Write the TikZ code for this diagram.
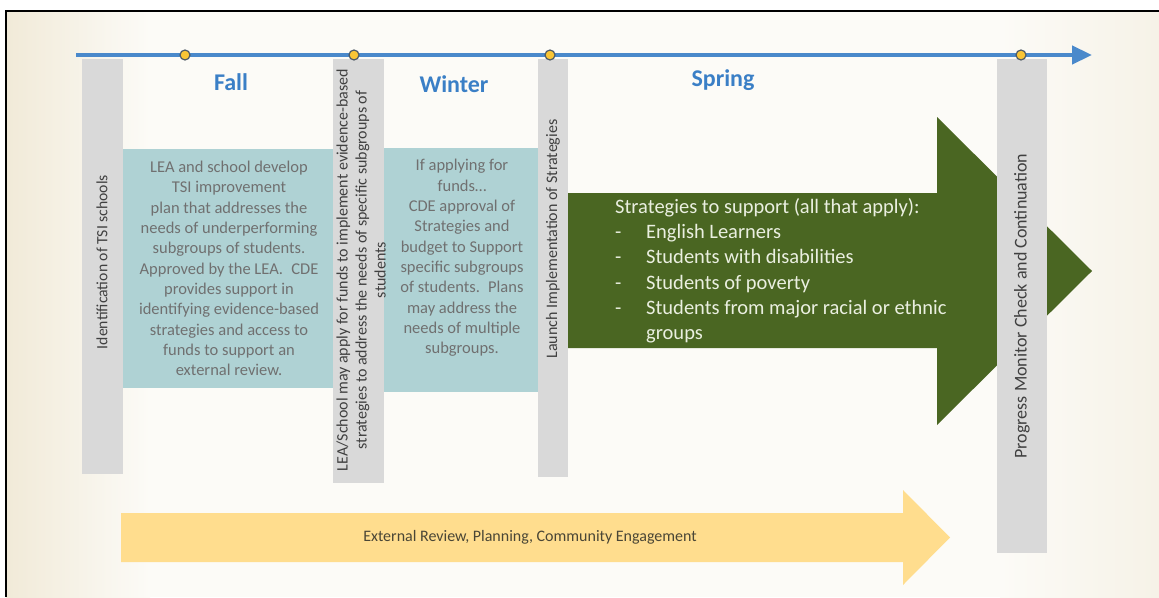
\documentclass[tikz,border=0pt]{standalone}
\usepackage{fontspec}
\setmainfont{Carlito}
\usetikzlibrary{arrows.meta}
\definecolor{bgc}{HTML}{FCFBF7}
\definecolor{beigeL}{HTML}{F1EAD8}
\definecolor{beigeR}{HTML}{F6F2E7}
\definecolor{tlblue}{HTML}{4A89CB}
\definecolor{lblblue}{HTML}{3A7FC6}
\definecolor{tealbox}{HTML}{AFD2D4}
\definecolor{barfill}{HTML}{D9D9D9}
\definecolor{tealtext}{HTML}{707070}
\definecolor{bartext}{HTML}{404040}
\definecolor{greenarrow}{HTML}{4A6622}
\definecolor{greentext}{HTML}{EAEFE0}
\definecolor{yellowarrow}{HTML}{FFDD8E}
\definecolor{yellowtext}{HTML}{4A4636}
\definecolor{dotfill}{HTML}{F9C535}
\definecolor{dotdraw}{HTML}{4F5B66}
\tikzset{
  barbox/.style={fill=barfill, draw=none, inner sep=0pt},
  tealpanel/.style={fill=tealbox, draw=none, inner sep=0pt},
  bartxt/.style={rotate=90, text=bartext, align=center, inner sep=0pt, font=\fontsize{16}{19}\selectfont},
  tealtxt/.style={text=tealtext, align=center, inner sep=0pt, font=\fontsize{16.5}{20.3}\selectfont},
  season/.style={text=lblblue, inner sep=0pt, font=\fontsize{24}{26}\selectfont\bfseries},
  tldot/.style={circle, fill=dotfill, draw=dotdraw, line width=1.2pt, minimum size=10pt, inner sep=0pt},
}
\begin{document}
\begin{tikzpicture}[x=1pt,y=-1pt]
\useasboundingbox (0,0) rectangle (1159,597);
% background
\fill[white] (0,0) rectangle (1159,597);
\fill[bgc] (6,11) rectangle (1159,597);
\shade[left color=beigeL, right color=bgc] (6,11) rectangle (150,597);
\shade[left color=bgc, right color=beigeR] (1000,11) rectangle (1159,597);
\draw[line width=2pt, black] (6,597) -- (6,11) -- (1159,11);

% yellow arrow
\fill[yellowarrow] (121,513) -- (903,513) -- (903,490) -- (950,537.5) -- (903,585) -- (903,562) -- (121,562) -- cycle;
\node[text=yellowtext, inner sep=0pt, font=\fontsize{16}{18}\selectfont] (ext) at (530,537) {External Review, Planning, Community Engagement};

% teal panels
\node[tealpanel, minimum width=212pt, minimum height=239pt] (p1) at (229,268.5) {};
\node[tealtxt] (p1t) at (229,268.5) {LEA and school develop\\TSI improvement\\plan that addresses the\\needs of underperforming\\subgroups of students.\\Approved by the LEA.\enspace CDE\\provides support in\\identifying evidence-based\\strategies and access to\\funds to support an\\external review.};
\node[tealpanel, minimum width=154pt, minimum height=244pt] (p2) at (461,270) {};
\node[tealtxt] (p2t) at (462,258) {If applying for\\funds…\\CDE approval of\\Strategies and\\budget to Support\\specific subgroups\\of students.\enspace Plans\\may address the\\needs of multiple\\subgroups.};

% green arrow
\fill[greenarrow] (567,193) -- (937,193) -- (937,117) -- (1092,271) -- (937,425) -- (937,348) -- (567,348) -- cycle;
\node[anchor=north west, text=greentext, align=left, inner sep=0pt, font=\fontsize{20.5}{25.3}\selectfont] (gt) at (615,198) {Strategies to support (all that apply):\\
\makebox[31pt][l]{-}English Learners\\
\makebox[31pt][l]{-}Students with disabilities\\
\makebox[31pt][l]{-}Students of poverty\\
\makebox[31pt][l]{-}Students from major racial or ethnic\\
\hspace*{31pt}groups};

% grey bars
\node[barbox, minimum width=41pt, minimum height=415pt] (b1) at (102.5,266.5) {};
\node[barbox, minimum width=51pt, minimum height=424pt] (b2) at (358.5,271) {};
\node[barbox, minimum width=30pt, minimum height=418pt] (b3) at (553,268) {};
\node[barbox, minimum width=50pt, minimum height=494pt] (b4) at (1022,306) {};
\node[bartxt, font=\fontsize{15.7}{19}\selectfont] (b1t) at (102,262) {Identification of TSI schools};
\node[bartxt] (b2t) at (361,270) {LEA/School may apply for funds to implement evidence-based\\strategies to address the needs of specific subgroups of\\students};
\node[bartxt] (b3t) at (553,239) {Launch Implementation of Strategies};
\node[bartxt, font=\fontsize{18}{20}\selectfont] (b4t) at (1022,306) {Progress Monitor Check and Continuation};

% timeline
\coordinate (tlA) at (76,55);
\coordinate (tlB) at (1092,55);
\draw[tlblue, line width=4.5pt, -{Triangle[length=20pt, width=18pt]}] (tlA) -- (tlB);
\node[tldot] (d1) at (185,55) {};
\node[tldot] (d2) at (354,55) {};
\node[tldot] (d3) at (550,55) {};
\node[tldot] (d4) at (1021,55) {};

% seasons
\node[season] (fall) at (231,82) {Fall};
\node[season] (winter) at (454,84) {Winter};
\node[season] (spring) at (723,80) {Spring};
\end{tikzpicture}
\end{document}
